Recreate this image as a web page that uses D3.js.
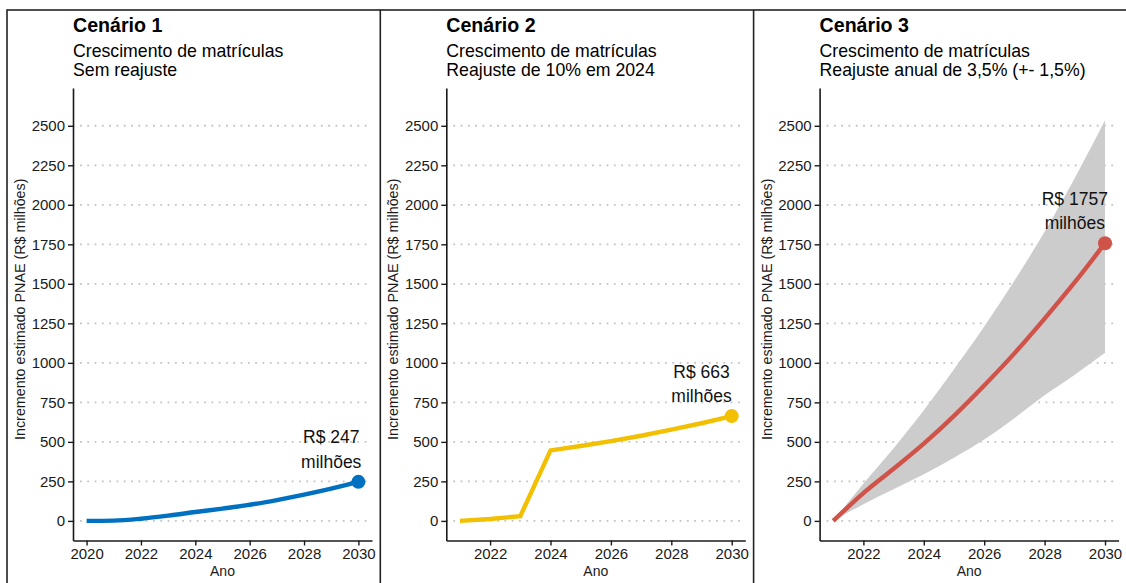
<!DOCTYPE html>
<html>
<head>
<meta charset="utf-8">
<script src="https://cdn.jsdelivr.net/npm/d3@7"></script>
<style>
    body { margin: 0; background: #fff; }
    svg { display: block; font-family: "Liberation Sans", Arial, sans-serif; }
</style>
</head>
<body>
<div id="chart"></div>
<script>
// --- data ---
const titles = ["Cenário 1", "Cenário 2", "Cenário 3"];
const subtitles = [
    ["Crescimento de matrículas", "Sem reajuste"],
    ["Crescimento de matrículas", "Reajuste de 10% em 2024"],
    ["Crescimento de matrículas", "Reajuste anual de 3,5% (+- 1,5%)"]
];

const yearsCen1 = [2020, 2021, 2022, 2023, 2024, 2025, 2026, 2027, 2028, 2029, 2030];
const yearsCen23 = [2021, 2022, 2023, 2024, 2025, 2026, 2027, 2028, 2029, 2030];

const cen1 = [0, 2, 14, 33, 56, 78, 102, 132, 166, 204, 247];
const cen2 = [0, 12, 30, 446, 474, 505, 539, 577, 618, 663];
const cen3 = [0, 176, 330, 489, 665, 857, 1060, 1280, 1510, 1757];
const cen3Low = [0, 106, 200, 295, 400, 515, 650, 795, 925, 1064];
const cen3High = [0, 235, 460, 700, 960, 1230, 1520, 1830, 2170, 2535];

const yTicks = [0, 250, 500, 750, 1000, 1250, 1500, 1750, 2000, 2250, 2500];
const xTicksCen1 = [2020, 2022, 2024, 2026, 2028, 2030];
const xTicksCen23 = [2022, 2024, 2026, 2028, 2030];

const labels = ["R$ 247", "R$ 663", "R$ 1757"];
const colors = ["#0070c0", "#f2c000", "#d0534a"];

const panels = [
    { years: yearsCen1, values: cen1, xTicks: xTicksCen1 },
    { years: yearsCen23, values: cen2, xTicks: xTicksCen23 },
    { years: yearsCen23, values: cen3, xTicks: xTicksCen23, low: cen3Low, high: cen3High }
];

// --- layout ---
const width = 1126, height = 583;
const frameLeft = 7, frameTop = 10, panelWidth = 373.3;
const plotOffset = 66, plotWidth = 299;
const plotTop = 88, plotBottom = 540.5;
const ink = "#1a1a1a";

const svg = d3.select("#chart").append("svg")
    .attr("width", width)
    .attr("height", height);

const y = d3.scaleLinear()
    .domain([-124, 2739])
    .range([plotBottom, plotTop]);

panels.forEach((p, i) => {
    const panelLeft = frameLeft + i * panelWidth;
    const left = panelLeft + plotOffset;
    const first = p.years[0], last = p.years[p.years.length - 1];
    const pad = (last - first) * 0.05;

    const x = d3.scaleLinear()
        .domain([first - pad, last + pad])
        .range([left, left + plotWidth]);

    const g = svg.append("g").classed("panel", true);

    // titles
    g.append("text")
        .attr("x", left)
        .attr("y", 32)
        .style("font-size", "19.6px")
        .style("font-weight", "bold")
        .style("fill", "#000")
        .text(titles[i]);

    subtitles[i].forEach((s, k) => {
        g.append("text")
            .attr("x", left)
            .attr("y", 57 + k * 19)
            .style("font-size", "17.7px")
            .style("fill", "#000")
            .text(s);
    });

    // dotted gridlines
    g.selectAll(".grid")
        .data(yTicks)
        .enter()
        .append("line")
        .classed("grid", true)
        .attr("x1", left)
        .attr("x2", left + plotWidth)
        .attr("y1", d => y(d))
        .attr("y2", d => y(d))
        .attr("stroke", "#c4c4c4")
        .attr("stroke-width", 1.8)
        .attr("stroke-dasharray", "1.8,5.5")
        .attr("stroke-dashoffset", -7);

    // uncertainty band
    if (p.low) {
        const area = d3.area()
            .x((d, k) => x(p.years[k]))
            .y0((d, k) => y(p.low[k]))
            .y1((d, k) => y(p.high[k]))
            .curve(d3.curveMonotoneX);
        g.append("path")
            .datum(p.years)
            .attr("d", area)
            .attr("fill", "#cccccc");
    }

    // series line + end point
    const line = d3.line()
        .x((d, k) => x(p.years[k]))
        .y(d => y(d))
        .curve(i === 1 ? d3.curveLinear : d3.curveMonotoneX);

    g.append("path")
        .datum(p.values)
        .attr("d", line)
        .attr("fill", "none")
        .attr("stroke", colors[i])
        .attr("stroke-width", 4.4);

    const lastVal = p.values[p.values.length - 1];
    g.append("circle")
        .attr("cx", x(last))
        .attr("cy", y(lastVal))
        .attr("r", 7)
        .attr("fill", colors[i]);

    // annotation
    const ann = g.append("text")
        .attr("text-anchor", "middle")
        .style("font-size", "17.5px")
        .style("fill", "#111");
    ann.append("tspan")
        .attr("x", x(last - 1))
        .attr("y", y(lastVal) - 38.5)
        .text(labels[i]);
    ann.append("tspan")
        .attr("x", x(last - 1))
        .attr("y", y(lastVal) - 14)
        .text("milhões");

    // axes
    const yAxis = g.append("g")
        .attr("transform", `translate(${left},0)`)
        .call(d3.axisLeft(y).tickValues(yTicks).tickFormat(d3.format("d")).tickSize(5).tickPadding(3).tickSizeOuter(0));

    const xAxis = g.append("g")
        .attr("transform", `translate(0,${plotBottom})`)
        .call(d3.axisBottom(x).tickValues(p.xTicks).tickFormat(d3.format("d")).tickSize(5).tickPadding(3).tickSizeOuter(0));

    [yAxis, xAxis].forEach(a => {
        a.select(".domain").attr("stroke", ink).attr("stroke-width", 1.6);
        a.selectAll(".tick line").attr("stroke", ink).attr("stroke-width", 1.4);
        a.selectAll(".tick text")
            .style("font-size", "15px")
            .style("font-family", "Liberation Sans, Arial, sans-serif")
            .attr("fill", ink);
    });

    g.append("text")
        .attr("x", left + plotWidth / 2)
        .attr("y", 576)
        .attr("text-anchor", "middle")
        .style("font-size", "14px")
        .style("fill", ink)
        .text("Ano");

    g.append("text")
        .attr("transform", `translate(${panelLeft + 18},${(plotTop + plotBottom) / 2 - 5}) rotate(-90)`)
        .attr("text-anchor", "middle")
        .style("font-size", "14.3px")
        .style("fill", ink)
        .text("Incremento estimado PNAE (R$ milhões)");
});

// panel frame
svg.append("rect")
    .attr("x", frameLeft)
    .attr("y", frameTop)
    .attr("width", 3 * panelWidth + 5)
    .attr("height", height)
    .attr("fill", "none")
    .attr("stroke", "#222")
    .attr("stroke-width", 1.6);

[1, 2].forEach(k => {
    svg.append("line")
        .attr("x1", frameLeft + k * panelWidth)
        .attr("x2", frameLeft + k * panelWidth)
        .attr("y1", frameTop)
        .attr("y2", height)
        .attr("stroke", "#222")
        .attr("stroke-width", 1.6);
});
</script>
</body>
</html>
